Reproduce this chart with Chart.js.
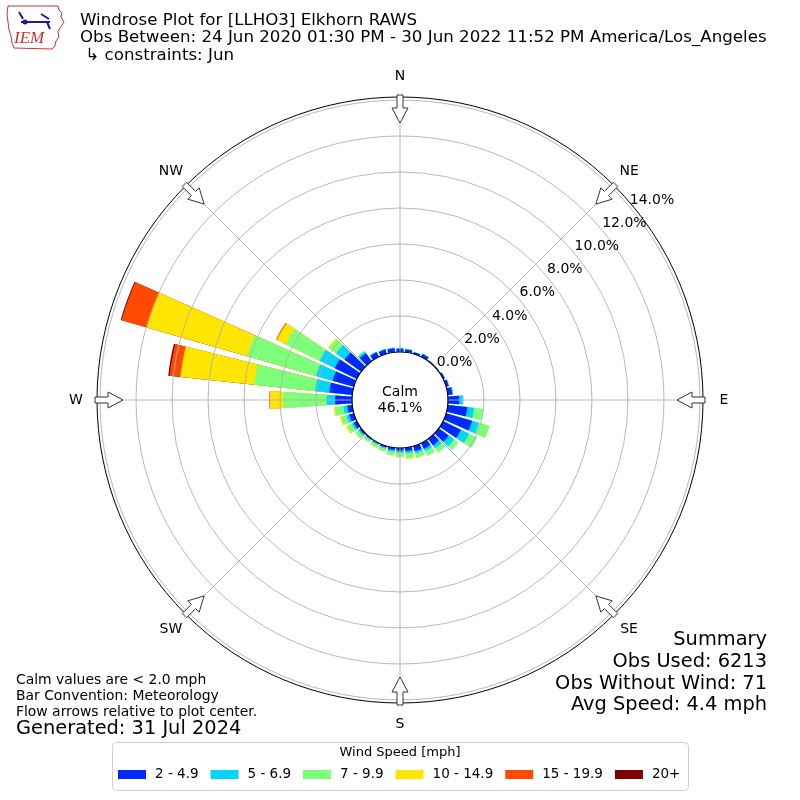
<!DOCTYPE html>
<html>
<head>
<meta charset="utf-8">
<script src="https://cdn.jsdelivr.net/npm/chart.js@4.4.1/dist/chart.umd.min.js"></script>
<style>
html, body { margin: 0; padding: 0; background: #fff; }
canvas { display: block; }
</style>
</head>
<body>
<canvas id="roseChart" width="800" height="800"></canvas>
<script>
// wind directions (degrees, meteorological convention)
const directions = [0, 10, 20, 30, 40, 50, 60, 70, 80, 90, 100, 110, 120, 130, 140, 150, 160, 170,
    180, 190, 200, 210, 220, 230, 240, 250, 260, 270, 280, 290, 300, 310, 320, 330, 340, 350];

// frequency (%) per speed bin, one value per direction
const bin2to5 = [0.18, 0.15, 0.10, 0.18, 0.06, 0.05, 0.10, 0.15, 0.25, 0.62, 1.10, 1.50, 1.10, 0.68, 0.45, 0.35, 0.30, 0.20,
    0.15, 0.12, 0.08, 0.05, 0.05, 0.10, 0.20, 0.27, 0.28, 0.94, 1.28, 1.22, 1.37, 1.14, 0.55, 0.28, 0.25, 0.22];
const bin5to7 = [0.05, 0.05, 0.02, 0.03, 0.00, 0.00, 0.02, 0.03, 0.05, 0.20, 0.37, 0.40, 0.50, 0.37, 0.20, 0.15, 0.12, 0.12,
    0.12, 0.10, 0.08, 0.07, 0.06, 0.10, 0.12, 0.17, 0.22, 0.47, 0.80, 0.96, 0.93, 0.59, 0.10, 0.05, 0.04, 0.04];
const bin7to10 = [0, 0, 0, 0, 0, 0, 0, 0, 0.02, 0.05, 0.51, 0.60, 0.50, 0.30, 0.30, 0.30, 0.25, 0.25,
    0.22, 0.20, 0.15, 0.15, 0.15, 0.20, 0.28, 0.28, 0.45, 2.41, 3.40, 3.99, 2.10, 0.47, 0.08, 0, 0, 0];
const bin10to15 = [0, 0, 0, 0, 0, 0, 0, 0, 0, 0, 0, 0.02, 0, 0, 0, 0, 0.02, 0.08,
    0.03, 0.02, 0.02, 0.01, 0, 0.02, 0.08, 0.10, 0.10, 0.74, 4.12, 5.80, 0.55, 0.08, 0, 0, 0, 0];
const bin15to20 = [0, 0, 0, 0, 0, 0, 0, 0, 0, 0, 0, 0, 0, 0, 0, 0, 0, 0,
    0, 0, 0, 0, 0, 0, 0, 0, 0, 0.04, 0.60, 1.46, 0.05, 0, 0, 0, 0, 0];
const bin20plus = [0, 0, 0, 0, 0, 0, 0, 0, 0, 0, 0, 0, 0, 0, 0, 0, 0, 0,
    0, 0, 0, 0, 0, 0, 0, 0, 0, 0, 0.08, 0.05, 0, 0, 0, 0, 0, 0];

const binLabels = ['2 - 4.9', '5 - 6.9', '7 - 9.9', '10 - 14.9', '15 - 19.9', '20+'];
const binColors = ['#0028ff', '#00d4ff', '#7cff79', '#ffe600', '#ff4a00', '#7f0000'];
const tickValues = [0, 2, 4, 6, 8, 10, 12, 14];
const compass = ['N', 'NE', 'E', 'SE', 'S', 'SW', 'W', 'NW'];
const calmPct = 46.1;

const FONT = '"DejaVu Sans", sans-serif';
const BAR_DEG = 8;   // angular width of a bar
const GAP_DEG = 2;   // gap between bars

const bins = [bin2to5, bin5to7, bin7to10, bin10to15, bin15to20, bin20plus];

// stacked look: every bin is drawn as cumulative radius, lower bins on top
const labels = [];
directions.forEach(d => { labels.push(d + '°'); labels.push(''); });

const datasets = bins.map((bin, b) => {
    const data = [];
    directions.forEach((d, i) => {
        let sum = 0;
        for (let k = 0; k <= b; k++) sum += bins[k][i];
        data.push(sum);
        data.push(0); // gap slot
    });
    return {
        label: binLabels[b],
        data: data,
        borderWidth: 0,
        angle: ctx => (ctx.dataIndex % 2 ? GAP_DEG : BAR_DEG),
        backgroundColor: ctx => {
            const i = ctx.dataIndex;
            if (i % 2 || bin[i / 2] <= 0) return 'rgba(0,0,0,0)';
            return binColors[b];
        }
    };
});

function polar(cx, cy, r, deg, w) {
    const a = deg * Math.PI / 180;
    return [cx + r * Math.sin(a) + w * Math.cos(a), cy - r * Math.cos(a) + w * Math.sin(a)];
}

const roseDecor = {
    id: 'roseDecor',
    beforeDraw(chart) {
        const ctx = chart.ctx;
        ctx.save();
        ctx.fillStyle = '#fff';
        ctx.fillRect(0, 0, chart.width, chart.height);
        ctx.restore();
    },
    afterDatasetsDraw(chart) {
        const ctx = chart.ctx;
        const scale = chart.scales.r;
        const cx = scale.xCenter, cy = scale.yCenter;
        const r0 = scale.getDistanceFromCenterForValue(0);
        const rMax = scale.getDistanceFromCenterForValue(scale.max);
        ctx.save();

        // grid rings
        ctx.strokeStyle = '#b0b0b0';
        ctx.lineWidth = 0.9;
        tickValues.forEach(v => {
            const d = scale.getDistanceFromCenterForValue(v);
            ctx.beginPath();
            ctx.arc(cx, cy, d, 0, Math.PI * 2);
            ctx.stroke();
        });
        // spokes
        compass.forEach((c, i) => {
            const p1 = polar(cx, cy, r0, i * 45, 0);
            const p2 = polar(cx, cy, rMax, i * 45, 0);
            ctx.beginPath();
            ctx.moveTo(p1[0], p1[1]);
            ctx.lineTo(p2[0], p2[1]);
            ctx.stroke();
        });

        // calm circle
        ctx.beginPath();
        ctx.arc(cx, cy, r0, 0, Math.PI * 2);
        ctx.fillStyle = '#fff';
        ctx.fill();
        ctx.strokeStyle = '#000';
        ctx.lineWidth = 1.2;
        ctx.stroke();
        ctx.fillStyle = '#000';
        ctx.font = '14px ' + FONT;
        ctx.textAlign = 'center';
        ctx.textBaseline = 'middle';
        ctx.fillText('Calm', cx, cy - 8);
        ctx.fillText(calmPct.toFixed(1) + '%', cx, cy + 8);

        // outer frame
        ctx.beginPath();
        ctx.arc(cx, cy, rMax, 0, Math.PI * 2);
        ctx.lineWidth = 1;
        ctx.stroke();

        // flow arrows
        compass.forEach((c, i) => {
            const deg = i * 45;
            const shape = [[305, -3], [292, -3], [292, -8], [277, 0], [292, 8], [292, 3], [305, 3]];
            ctx.beginPath();
            shape.forEach((s, k) => {
                const p = polar(cx, cy, s[0] * rMax / 303, deg, s[1]);
                if (k === 0) ctx.moveTo(p[0], p[1]); else ctx.lineTo(p[0], p[1]);
            });
            ctx.closePath();
            ctx.fillStyle = '#fff';
            ctx.fill();
            ctx.strokeStyle = '#333';
            ctx.lineWidth = 1;
            ctx.stroke();
        });

        // compass labels
        ctx.fillStyle = '#000';
        ctx.font = '14px ' + FONT;
        ctx.textAlign = 'center';
        ctx.textBaseline = 'middle';
        compass.forEach((c, i) => {
            const p = polar(cx, cy, rMax + 21, i * 45, 0);
            ctx.fillText(c, p[0], p[1]);
        });

        // radial tick labels
        ctx.textAlign = 'left';
        ctx.textBaseline = 'bottom';
        const ta = 40 * Math.PI / 180;
        tickValues.forEach(v => {
            const d = scale.getDistanceFromCenterForValue(v);
            ctx.fillText(v.toFixed(1) + '%', cx + d * Math.cos(ta), cy - d * Math.sin(ta));
        });
        ctx.restore();
    },
    afterDraw(chart) {
        const ctx = chart.ctx;
        ctx.save();
        ctx.fillStyle = '#000';
        ctx.textBaseline = 'alphabetic';
        ctx.textAlign = 'left';

        // title
        ctx.font = '16.67px ' + FONT;
        ctx.fillText('Windrose Plot for [LLHO3] Elkhorn RAWS', 80, 25);
        ctx.fillText('Obs Between: 24 Jun 2020 01:30 PM - 30 Jun 2022 11:52 PM America/Los_Angeles', 80, 42);
        ctx.fillText(' \u21b3 constraints: Jun', 80, 60);

        // notes bottom left
        ctx.textBaseline = 'middle';
        ctx.font = '13.9px ' + FONT;
        ctx.fillText('Calm values are < 2.0 mph', 16, 680);
        ctx.fillText('Bar Convention: Meteorology', 16, 696);
        ctx.fillText('Flow arrows relative to plot center.', 16, 712);
        ctx.font = '19.4px ' + FONT;
        ctx.fillText('Generated: 31 Jul 2024', 16, 729);

        // summary
        ctx.textAlign = 'right';
        ctx.fillText('Summary', 767, 640);
        ctx.fillText('Obs Used: 6213', 767, 662);
        ctx.fillText('Obs Without Wind: 71', 767, 684);
        ctx.fillText('Avg Speed: 4.4 mph', 767, 705);

        // legend
        ctx.beginPath();
        ctx.roundRect(112.5, 742.5, 576, 48, 4);
        ctx.fillStyle = 'rgba(255,255,255,0.8)';
        ctx.fill();
        ctx.strokeStyle = '#d0d0d0';
        ctx.lineWidth = 1;
        ctx.stroke();
        ctx.fillStyle = '#000';
        ctx.textAlign = 'center';
        ctx.font = '13px ' + FONT;
        ctx.fillText('Wind Speed [mph]', 400, 753);
        ctx.textAlign = 'left';
        ctx.font = '13.5px ' + FONT;
        let x = 118;
        binLabels.forEach((lab, b) => {
            ctx.fillStyle = binColors[b];
            ctx.fillRect(x, 770, 28, 9);
            ctx.fillStyle = '#000';
            ctx.fillText(lab, x + 37, 774.5);
            x += 37 + ctx.measureText(lab).width + 12;
        });

        // IEM logo
        ctx.strokeStyle = '#d03030';
        ctx.lineWidth = 1;
        ctx.beginPath();
        const iowa = [[8, 6], [58, 6], [59, 10], [62, 13], [61, 17], [64, 22], [60, 28], [58, 32], [59, 37],
            [56, 41], [55, 46], [52, 49], [14, 48], [12, 43], [11, 36], [9, 30], [8, 22], [7, 14]];
        iowa.forEach((p, k) => { if (k === 0) ctx.moveTo(p[0], p[1]); else ctx.lineTo(p[0], p[1]); });
        ctx.closePath();
        ctx.stroke();
        ctx.fillStyle = '#d03030';
        ctx.font = 'italic 17px "Liberation Serif", serif';
        ctx.fillText('IEM', 14, 39);
        ctx.strokeStyle = '#1a1aa0';
        ctx.fillStyle = '#1a1aa0';
        ctx.lineWidth = 2;
        ctx.beginPath();
        ctx.moveTo(21, 22); ctx.lineTo(50, 22);
        ctx.moveTo(19, 12); ctx.lineTo(23, 19);
        ctx.moveTo(41, 14); ctx.lineTo(49, 19);
        ctx.moveTo(47, 22); ctx.lineTo(50, 29);
        ctx.stroke();
        ctx.beginPath();
        ctx.arc(25, 22, 2.5, 0, Math.PI * 2);
        ctx.fill();
        ctx.restore();
    }
};

new Chart(document.getElementById('roseChart').getContext('2d'), {
    type: 'polarArea',
    data: {
        labels: labels,
        datasets: datasets
    },
    options: {
        responsive: false,
        animation: false,
        devicePixelRatio: 1,
        layout: { padding: { left: 97, right: 97, top: 97, bottom: 97 } },
        scales: {
            r: {
                min: -2.667,
                max: 14.17,
                startAngle: -BAR_DEG / 2,
                ticks: { display: false },
                grid: { display: false },
                angleLines: { display: false },
                pointLabels: { display: false }
            }
        },
        plugins: {
            legend: { display: false },
            tooltip: { enabled: false }
        }
    },
    plugins: [roseDecor]
});
</script>
</body>
</html>
